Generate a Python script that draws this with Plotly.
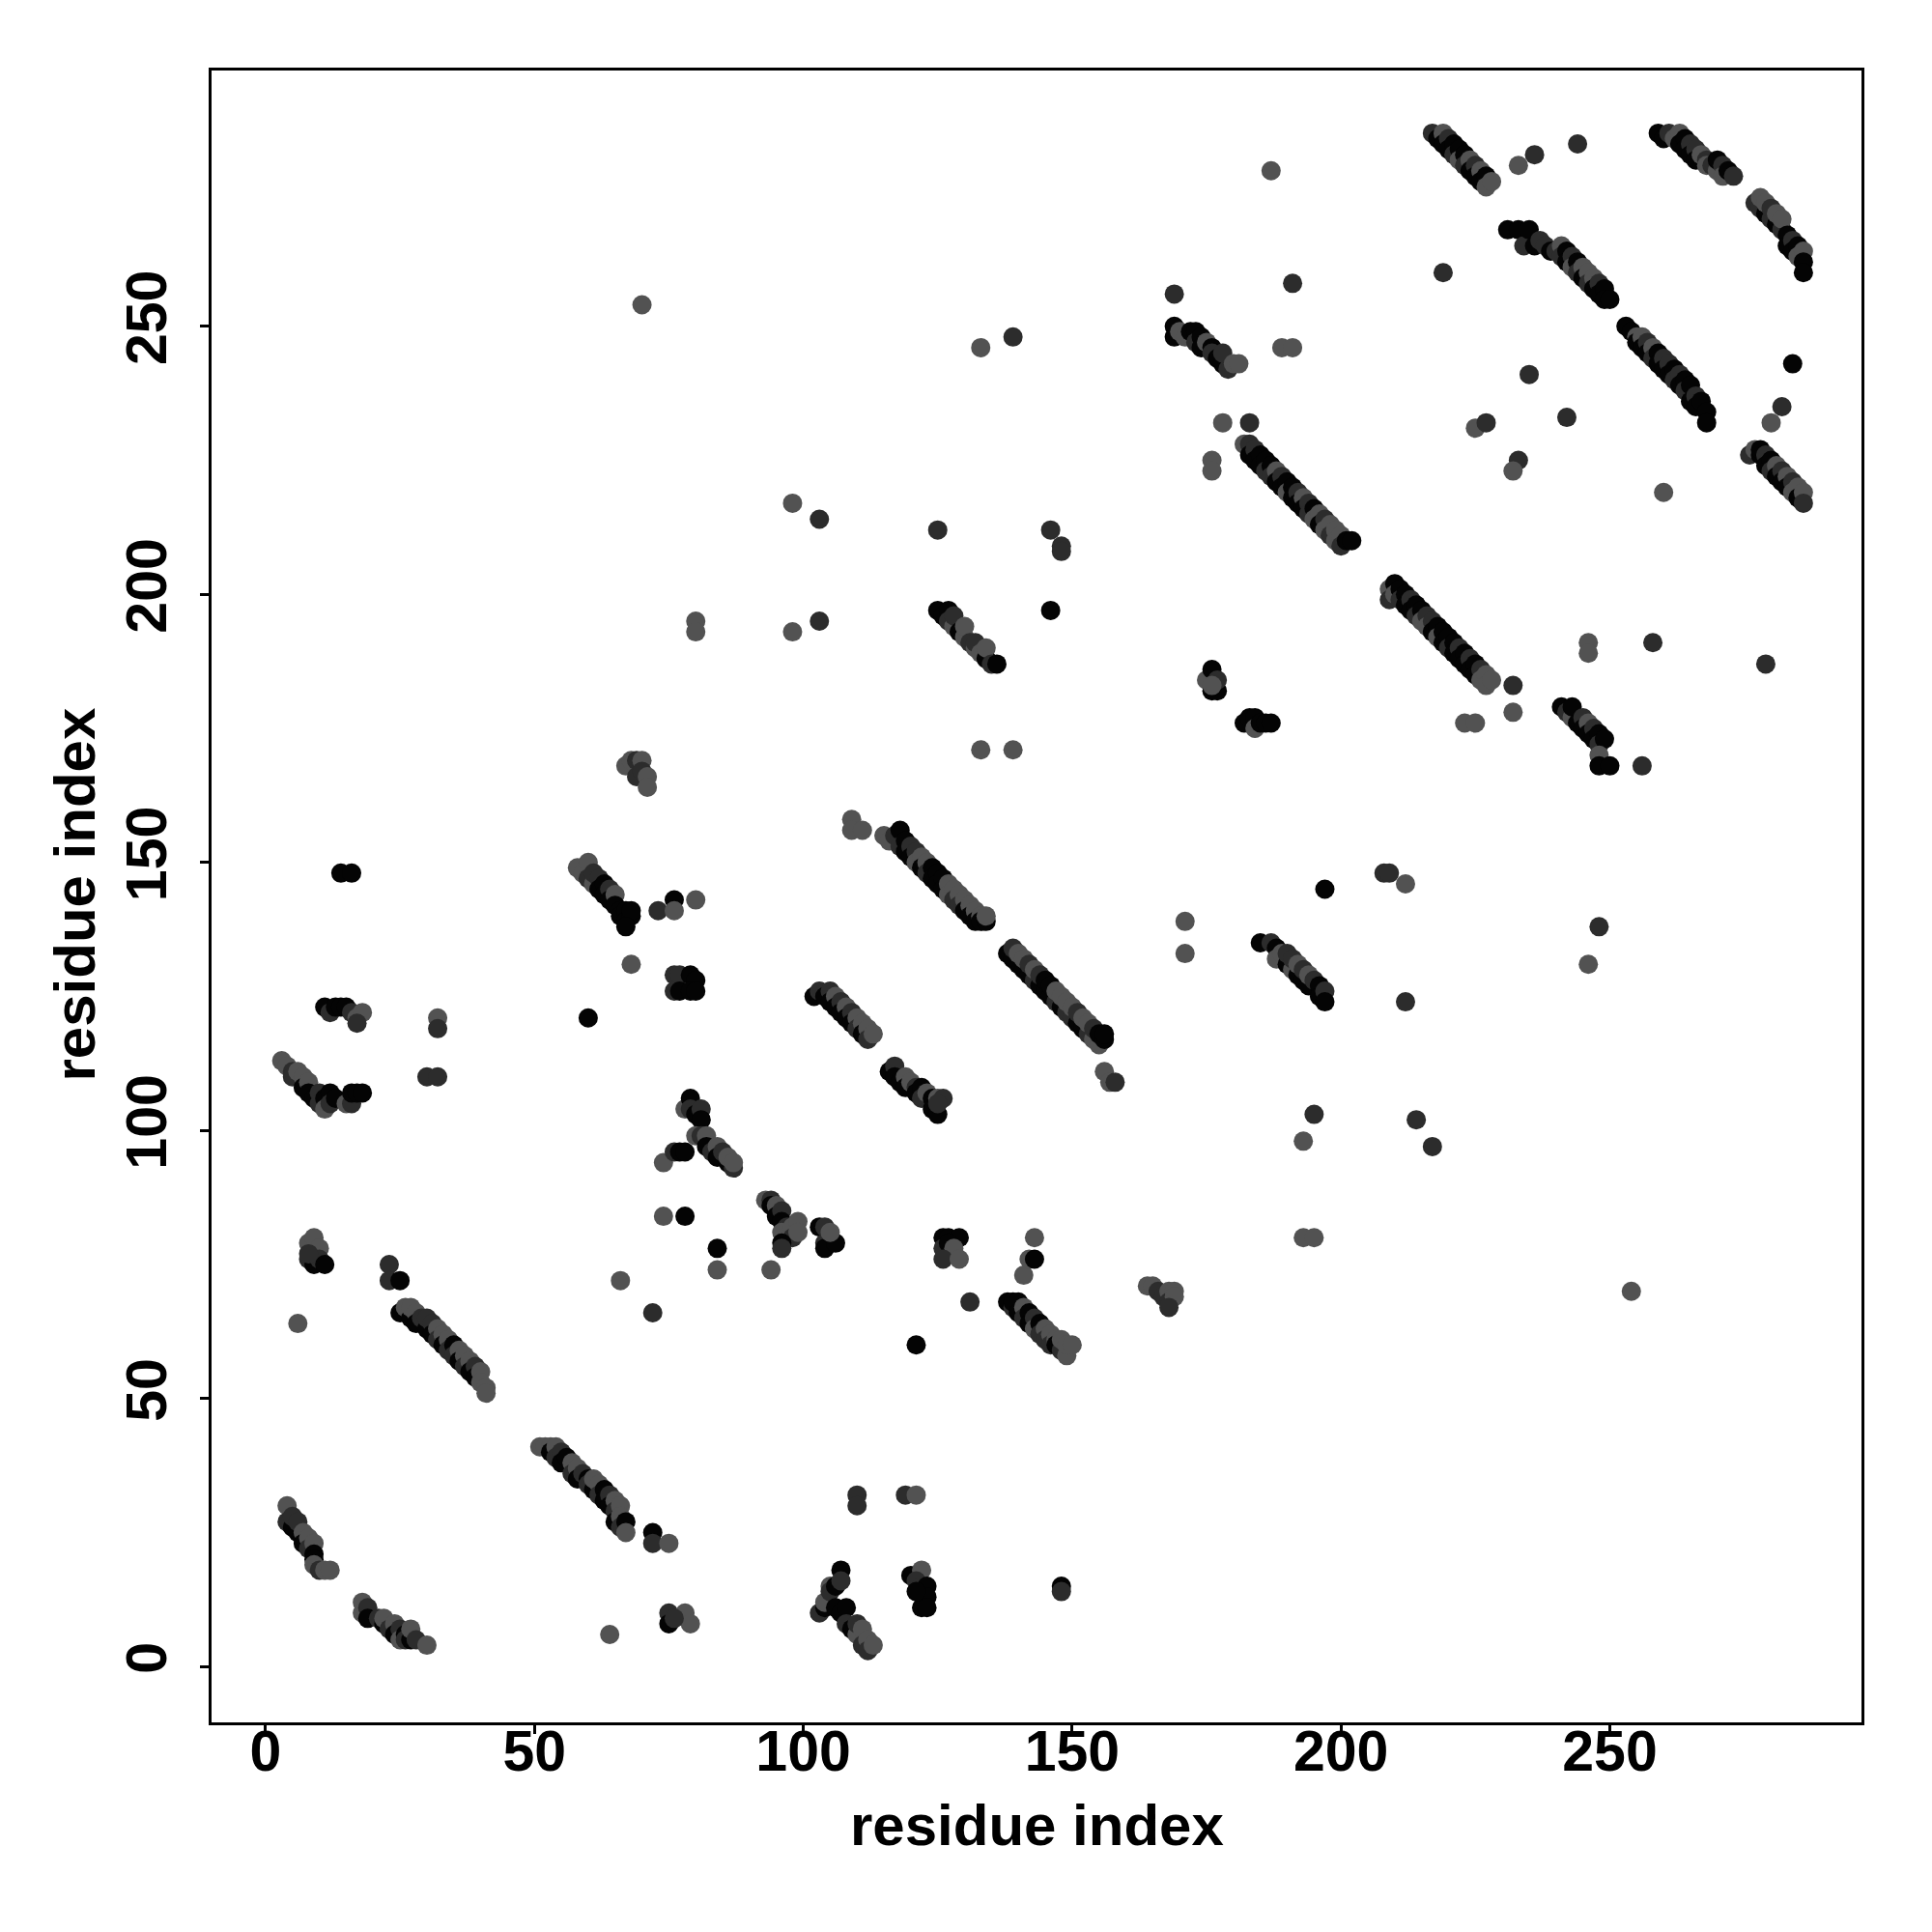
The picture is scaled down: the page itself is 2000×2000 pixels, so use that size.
import plotly.graph_objects as go

# Predicted residue-residue contacts: (residue i, residue j, confidence class 1=low,2=mid,3=high)
block_a = [(4,30,1),(4,27,2),(5,26,3),(5,28,2),(6,25,3),(6,27,2),(7,25,1),(7,23,3),(8,24,1),(8,22,2),
           (9,23,1),(9,21,3),(9,20,3),(9,19,1),(10,18,2),(11,18,1),(12,18,1)]
block_b = [(18,12,1),(18,10,1),(19,11,2),(19,9,3),(21,9,2),(22,8,3),(22,9,1),(23,7,2),(24,8,1),(24,6,3),
           (25,7,2),(25,5,1),(26,6,3),(26,5,2),(27,5,3),(27,7,1),(28,5,2),(30,4,1)]
block_c = [(6,64,1),(8,79,1),(9,80,1),(10,78,1),(8,76,2),(9,75,3),(10,76,2),(11,75,3),(8,77,2),
           (23,75,2),(23,72,2),(25,72,3)]
block_d = [(25,66,3),(26,67,1),(27,65,3),(27,67,1),(28,66,1),(28,64,3),(29,65,2),(30,63,3),(30,65,2),
           (31,64,2),(31,62,3),(32,63,1),(32,61,2),(33,62,1),(33,60,3),(34,61,1),(34,59,2),(35,60,3),
           (35,58,2),(36,59,1),(36,57,3),(37,58,1),(37,56,2),(38,57,1),(38,55,3),(39,56,2),(39,54,3),
           (40,55,1),(40,53,1),(41,52,1),(41,51,1)]
block_e = [(51,41,1),(52,41,1),(53,41,1),(53,40,3),(54,41,1),(54,39,2),(55,40,2),(55,38,3),(56,39,3),
           (57,38,1),(57,36,2),(58,37,1),(58,35,3),(59,36,2),(60,35,3),(60,34,2),(61,33,3),(61,35,1),
           (62,34,1),(62,32,2),(63,33,3),(63,31,3),(64,32,2),(64,30,3),(65,31,1),(65,29,2),(65,27,3),
           (66,30,1),(66,28,1),(66,26,2),(67,27,3),(67,25,1)]
block_f = [(72,25,3),(72,23,2),(75,23,1),(64,6,1),(75,10,2),(75,8,3),(78,10,1),(79,8,1),(76,9,2),
           (66,72,1),(72,66,2),(74,84,1),(78,84,3),(84,78,3),(84,74,1),(74,94,1)]
block_g = [(76,96,2),(77,96,3),(78,96,3),(78,104,1),(79,106,3),(79,104,2),(80,103,3),(81,104,2),(81,102,3),
           (80,99,1),(81,99,2),(82,99,1),(82,97,3),(83,96,2),(84,97,1),(84,95,3),(85,96,2),(86,94,3),
           (86,95,1),(87,93,2),(87,94,1)]
block_h = [(93,87,1),(94,87,2),(94,86,3),(95,86,1),(95,84,3),(96,85,2),(96,83,3),(97,82,2),(96,81,1),
           (98,82,1),(99,83,1),(98,80,2),(99,81,1),(96,79,3),(96,78,2),(94,74,1),
           (103,82,3),(104,82,2),(104,79,2),(104,78,3),(106,79,3),(105,81,1)]
block_i = [(121,60,3),(126,80,3),(127,80,3),(129,80,3),(126,78,2),(127,79,3),(128,78,1),(126,76,2),
           (129,76,1),(131,68,2),(141,73,1),(142,76,1),(143,76,3),(143,80,1)]
block_j = [(138,68,3),(139,67,2),(139,68,3),(140,68,3),(140,66,3),(141,67,1),(141,65,2),(142,66,3),
           (142,64,3),(143,65,2),(143,63,1),(144,64,3),(144,62,2),(145,63,1),(145,61,2),(146,62,1),
           (146,60,2),(147,61,1),(147,60,3),(148,59,2),(148,61,1),(149,58,1),(149,60,1),(150,60,1),
           (164,71,1),(165,71,1),(166,70,2),(167,69,2),(168,70,1),(168,68,2),(169,70,1),(169,69,1),(168,67,2)]
block_k = [(103,10,2),(104,11,3),(104,12,1),(105,15,1),(105,14,2),(106,15,3),(106,11,3),(107,18,3),
           (107,16,2),(107,10,3),(108,11,3),(108,8,2),(109,7,3),(110,6,1),(110,8,2),(111,7,1),(111,4,2),
           (112,5,1),(112,3,2),(113,4,1),(110,32,2),(110,30,2),(119,32,2),(121,32,1),
           (120,17,3),(122,18,1),(121,16,2),(122,15,2),(123,15,3),(123,13,3),(122,11,3),(123,11,3),
           (121,14,3),(148,15,3),(148,14,2)]
block_l = [(3,113,1),(4,112,1),(5,111,2),(5,110,2),(6,111,1),(7,110,1),(7,108,3),(8,109,1),(8,107,3),
           (9,106,3),(10,107,2),(10,105,2),(11,106,3),(11,104,1),(12,107,3),(12,105,2),(13,106,3),
           (15,105,1),(16,105,2),(16,107,3),(17,107,3),(18,107,3),
           (11,123,3),(12,122,2),(13,123,3),(14,123,3),(15,123,3),(16,122,2),(17,121,1),(18,122,1),
           (17,120,2),(14,148,3),(16,148,3),(32,121,1),(32,119,2),(30,110,2),(32,110,2)]
block_m = [(60,121,3),(58,149,1),(59,148,1),(60,150,1),(60,147,2),(61,146,1),(61,148,2),(62,147,2),
           (62,145,3),(63,146,3),(63,144,3),(64,145,2),(64,143,3),(65,144,1),(65,142,3),(66,141,3),
           (66,140,3),(67,141,3),(67,139,3),(68,140,3),(68,141,3),(67,138,3),
           (73,141,2),(76,143,3),(76,141,1),(80,143,1),(68,131,1),
           (76,129,2),(77,129,2),(76,126,2),(77,126,3),(79,129,3),(80,128,3),(79,126,3),(80,126,3)]
block_n = [(67,168,1),(68,169,1),(69,169,2),(70,169,1),(69,166,2),(70,167,2),(71,166,1),(71,164,1),
           (70,254,1),(80,195,1),(80,193,1),(98,217,1),(98,193,1),(103,214,2),(103,195,2)]
block_o = [(102,125,3),(103,126,2),(104,125,3),(105,126,2),(105,124,3),(106,125,1),(106,123,3),
           (107,124,2),(107,122,3),(108,123,1),(108,121,3),(109,122,2),(109,120,3),(110,121,1),
           (110,119,2),(111,120,1),(111,118,3),(112,119,1),(112,117,2),(113,118,1),
           (109,158,1),(109,156,1),(111,156,1)]
block_p = [(116,111,3),(117,112,2),(117,110,3),(118,109,3),(119,110,1),(119,108,3),(120,109,1),
           (121,108,2),(121,107,3),(122,108,3),(122,106,2),(123,107,1),(124,106,3),(124,104,3),
           (125,106,1),(126,106,2),(125,103,3),(125,105,2)]
block_q = [(115,155,1),(116,154,1),(117,155,2),(118,156,3),(118,153,2),(119,154,3),(119,152,3),
           (120,153,2),(120,151,3),(121,152,2),(121,150,1),(122,151,1),(122,149,3),(123,150,1),
           (123,148,2),(124,149,3),(124,147,3),(125,148,3),(125,146,3),(126,147,3),(126,145,3),
           (127,146,1),(127,144,1),(128,145,1),(128,143,2),(129,144,1),(129,142,2),(130,143,1),
           (130,141,3),(131,142,1),(131,140,3),(132,141,1),(132,139,3),(133,140,1),(133,139,3),
           (134,139,3),(134,140,1)]
block_r = [(138,133,3),(139,132,3),(139,134,2),(140,131,3),(140,133,1),(141,130,3),(141,132,1),
           (142,129,3),(142,131,2),(143,128,2),(143,130,1),(144,127,3),(144,129,2),(145,126,3),
           (145,128,3),(146,125,3),(146,127,3),(147,124,2),(147,126,1),(148,123,3),(148,125,1),
           (149,122,2),(149,124,1),(150,121,2),(150,123,1),(151,120,3),(151,122,2),(152,119,3),
           (152,121,1),(153,118,2),(153,120,1),(154,117,1),(154,119,2),(155,116,1),(155,118,3),
           (156,117,3),(156,118,3),(156,111,1),(157,109,1),(158,109,2)]
block_s = [(125,197,3),(126,196,3),(127,197,3),(127,195,2),(128,194,1),(128,196,2),(129,193,3),
           (130,192,1),(130,194,1),(131,191,2),(132,190,1),(132,191,2),(133,189,1),(134,188,3),
           (134,190,1),(135,187,2),(136,187,3),
           (125,212,2),(133,246,1),(139,248,2),(133,171,1),(139,171,1),(146,212,2),(148,209,2),
           (148,208,2),(146,197,3)]
block_t = [(171,139,1),(171,133,1),(175,184,1),(176,186,3),(176,182,3),(177,182,3),(177,184,2),
           (176,183,1),(182,176,3),(183,177,3),(184,177,3),(184,175,1),(185,176,3),(186,176,3),(187,176,3)]
block_u = [(169,256,2),(169,250,3),(169,248,3),(170,249,1),(171,248,1),(172,249,3),(173,249,3),
           (173,247,2),(174,248,3),(174,246,3),(175,247,1),(176,246,3),(176,245,2),(177,244,3),
           (178,243,3),(178,245,2),(179,242,2),(180,243,1),(181,243,1),
           (176,225,1),(176,223,1),(178,232,1),(183,232,2)]
block_v = [(182,228,1),(183,228,2),(183,226,3),(184,227,2),(184,225,3),(185,226,3),(185,224,3),
           (186,225,3),(186,223,2),(187,224,3),(187,222,2),(188,223,1),(188,221,3),(189,222,2),
           (189,220,3),(190,221,3),(190,219,1),(191,220,3),(191,218,3),(192,219,2),(192,217,3),
           (193,218,1),(193,216,3),(194,217,2),(194,215,2),(195,216,3),(195,214,1),(196,215,1),
           (196,213,3),(197,214,2),(197,212,1),(198,213,1),(198,211,2),(199,212,1),(199,210,1),
           (200,211,1),(200,209,2),(201,210,3),(202,210,3),
           (187,279,1),(191,258,2),(189,246,1),(191,246,1)]
block_w = [(185,135,3),(187,135,2),(188,134,3),(188,132,1),(189,133,1),(190,131,3),(190,133,2),
           (191,130,1),(191,132,2),(192,129,3),(192,131,1),(193,128,3),(193,130,2),(194,127,3),
           (194,129,1),(195,128,2),(196,127,3),(196,125,3),(197,126,2),(197,124,3),
           (197,145,3),(193,98,1),(195,103,2),(193,80,1),(195,80,1),(208,148,2),(209,148,2),
           (212,146,1),(212,124,2),(214,102,2),(217,97,2)]
block_x = [(209,201,1),(209,199,2),(210,202,3),(210,200,1),(211,201,3),(211,199,2),(212,200,3),
           (212,198,3),(213,199,2),(213,197,3),(214,198,3),(214,196,2),(215,197,3),(215,195,1),
           (216,196,2),(216,194,1),(217,195,2),(217,193,3),(218,194,3),(218,192,1),(219,193,3),
           (219,191,3),(220,192,3),(220,190,2),(221,191,3),(221,189,3),(222,190,2),(222,188,3),
           (223,189,3),(223,187,3),(224,188,2),(224,186,3),(225,187,3),(225,185,3),(226,186,2),
           (226,184,1),(227,185,1),(227,183,1),(228,184,1),
           (223,176,1),(225,176,1),(232,183,2),(232,178,1),(219,260,2)]
block_y = [(217,286,2),(218,285,3),(219,286,1),(219,284,3),(220,285,2),(220,283,3),(221,284,3),
           (221,282,2),(222,283,3),(222,281,1),(223,282,3),(223,280,2),(224,281,1),(224,279,3),
           (225,280,2),(225,278,3),(226,279,1),(226,277,3),(227,278,3),(227,276,1),(228,277,1),
           (233,280,1),(236,282,2),(244,284,2)]
block_z = [(231,268,3),(233,268,3),(234,265,2),(235,268,3),(236,265,3),(237,266,2),(238,265,2),
           (239,264,3),(240,264,2),(241,265,1),(241,263,2),(242,264,3),(242,262,3),(243,263,2),
           (243,261,1),(244,262,3),(244,260,2),(245,261,1),(245,259,3),(246,260,1),(246,258,2),
           (247,259,1),(247,257,3),(248,258,2),(248,256,3),(249,257,3),(249,255,3),(250,255,3),
           (235,241,2),(242,233,2),(225,231,1),(227,232,2),(233,225,2),(232,223,1)]
block_aa = [(241,179,3),(242,178,2),(243,177,1),(243,179,3),(244,176,3),(245,177,2),(245,175,3),
            (246,176,1),(246,174,3),(247,175,2),(247,173,3),(248,174,3),(248,172,2),(249,173,3),
            (248,170,1),(248,168,3),(250,168,3),
            (246,191,1),(246,189,1),(256,168,2),(258,191,2),(279,187,2),(248,138,2),(246,131,1),
            (254,70,1),(260,219,1)]
block_bb = [(253,250,3),(254,249,3),(255,248,1),(255,247,3),(256,248,1),(256,246,3),(257,247,2),
            (257,245,3),(258,246,1),(258,244,2),(259,245,3),(259,243,3),(260,244,2),(260,242,3),
            (261,243,2),(261,241,3),(262,242,3),(262,240,2),(263,241,2),(263,239,3),(264,240,3),
            (264,238,2),(265,239,3),(265,236,3),(266,237,2),(266,235,3),(267,236,3),(268,234,3),
            (268,232,3)]
block_cc = [(259,286,3),(260,285,3),(261,286,2),(262,285,1),(263,286,1),(263,284,3),(264,285,3),
            (264,283,3),(265,284,2),(265,282,3),(266,283,2),(266,281,3),(267,282,1),(268,281,2),
            (268,280,1),(269,280,2),(270,279,1),(270,281,3),(271,280,2),(271,278,1),(272,279,3),
            (273,278,2)]
block_dd = [(277,273,2),(278,272,2),(278,274,1),(279,271,3),(279,273,1),(280,270,2),(280,272,2),
            (281,269,3),(281,271,1),(282,268,2),(282,270,1),(283,267,3),(283,265,3),(284,266,2),
            (284,264,3),(285,265,3),(285,263,1),(286,264,1),(286,262,3),(286,260,3),
            (284,243,3),(282,235,2),(280,232,1)]
block_ee = [(276,226,2),(277,227,1),(278,226,3),(278,227,3),(279,226,2),(279,224,3),(280,225,3),
            (280,223,2),(281,224,1),(281,222,3),(282,223,2),(282,221,3),(283,222,1),(283,220,3),
            (284,221,2),(284,219,1),(285,220,1),(285,218,3),(286,219,1),(286,217,2)]

blocks = [block_a, block_b, block_c, block_d, block_e, block_f, block_g, block_h, block_i,
          block_j, block_k, block_l, block_m, block_n, block_o, block_p, block_q, block_r,
          block_s, block_t, block_u, block_v, block_w, block_x, block_y, block_z, block_aa,
          block_bb, block_cc, block_dd, block_ee]

tick_values = [0, 50, 100, 150, 200, 250]
axis_label = "residue index"

res_i, res_j, level = [], [], []
for b in blocks:
    for i, j, c in b:
        res_i.append(i)
        res_j.append(j)
        level.append(c)

shade = {1: "#525252", 2: "#2c2c2c", 3: "#040404"}
colors = [shade[c] for c in level]

fig = go.Figure()
fig.add_trace(go.Scatter(
    x=res_i, y=res_j, mode="markers",
    marker=dict(size=20, color=colors, line=dict(width=0)),
    showlegend=False, hoverinfo="skip",
))

FONT = "Liberation Sans, Arial, Helvetica, sans-serif"
axis_common = dict(
    showline=True, mirror=True, linecolor="black", linewidth=3,
    ticks="outside", ticklen=9, tickwidth=3, tickcolor="black",
    tickvals=tick_values, showgrid=False, zeroline=False,
    tickfont=dict(family=FONT, size=59, color="black", weight="bold"),
)
fig.update_xaxes(range=[-10.05, 296.8], ticklabelstandoff=-33, **axis_common)
fig.update_yaxes(range=[-10.4, 297.7], tickangle=-90, ticklabelstandoff=11, **axis_common)

fig.add_annotation(text=axis_label, xref="paper", yref="paper", x=0.5, y=-0.062,
                   showarrow=False, xanchor="center", yanchor="middle",
                   font=dict(family=FONT, size=60, color="black", weight="bold"))
fig.add_annotation(text=axis_label, xref="paper", yref="paper", x=-0.083, y=0.501,
                   showarrow=False, xanchor="center", yanchor="middle", textangle=-90,
                   font=dict(family=FONT, size=60, color="black", weight="bold"))

# page body adds an 8px offset; margins compensate so the plot box lands where the reference has it
fig.update_layout(
    width=2000, height=2000,
    margin=dict(l=211, r=81, t=65, b=225),
    paper_bgcolor="white", plot_bgcolor="white",
)

fig.write_html("out.html")
